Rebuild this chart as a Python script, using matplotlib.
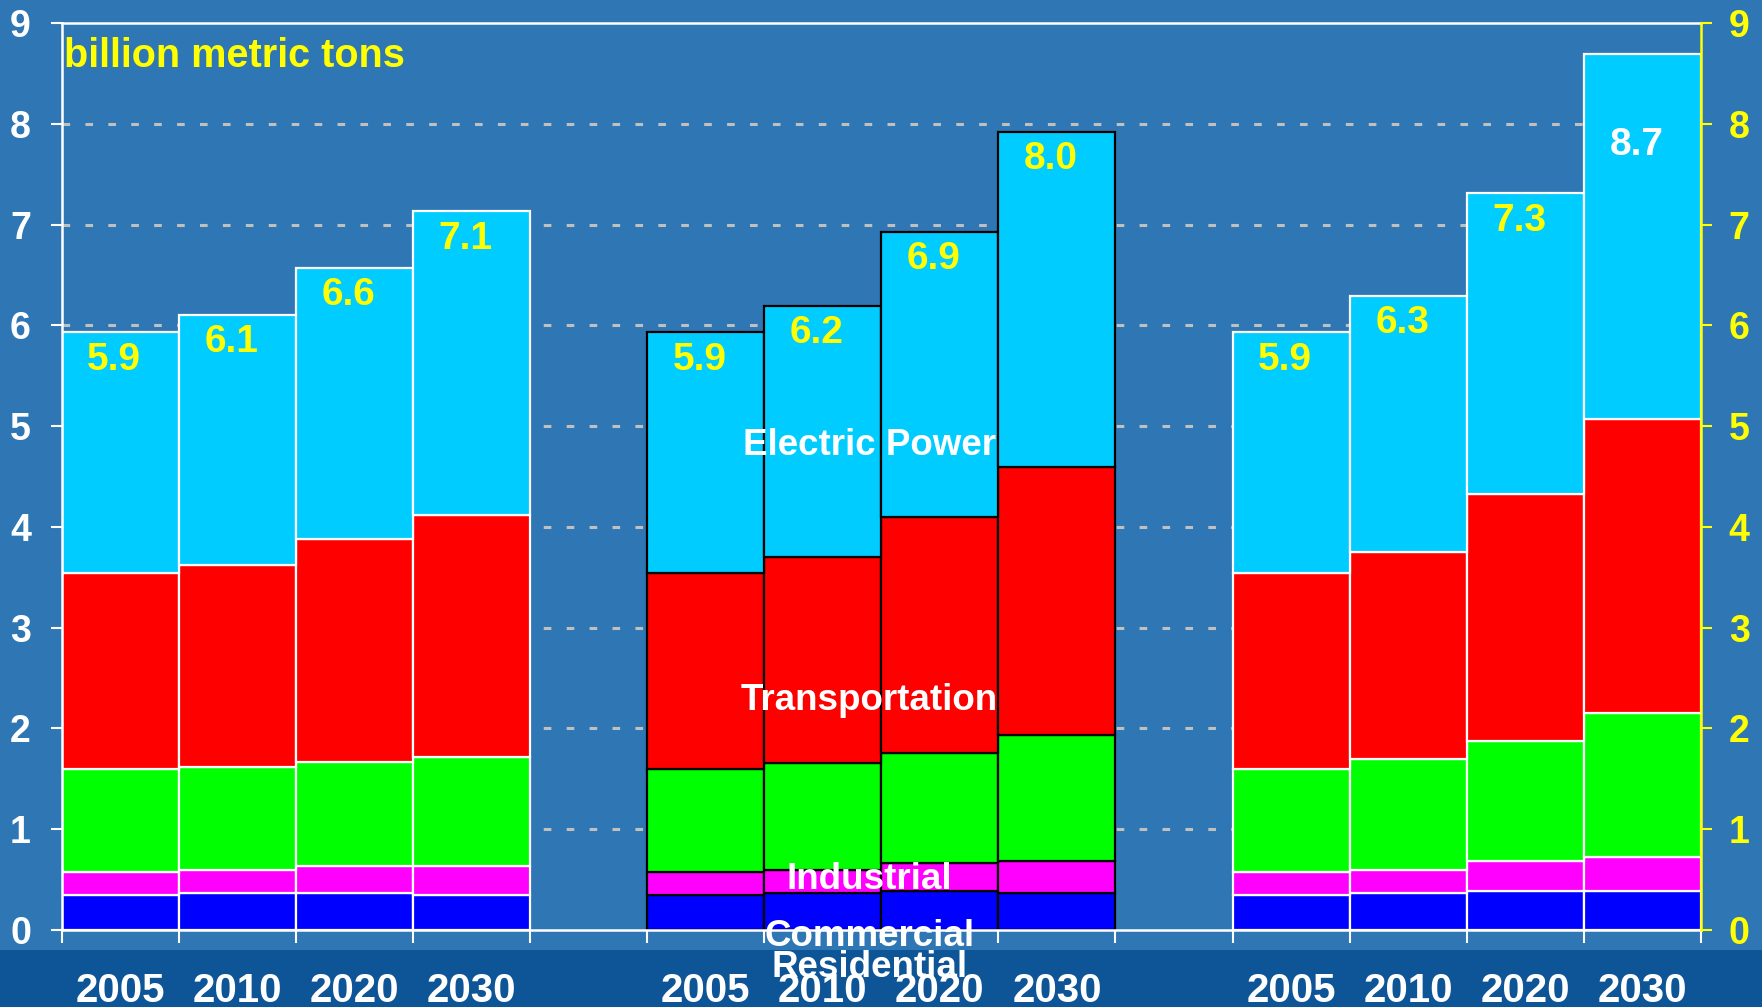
import numpy as np
import matplotlib.pyplot as plt
from matplotlib.patches import Rectangle

plt.rcParams['font.family'] = ['Liberation Sans', 'DejaVu Sans']

years = ['2005', '2010', '2020', '2030']
# three scenarios, four years each (billion metric tons)
residential = [0.35, 0.37, 0.37, 0.35, 0.35, 0.37, 0.39, 0.37, 0.35, 0.37, 0.39, 0.39]
commercial = [0.23, 0.23, 0.27, 0.29, 0.23, 0.23, 0.27, 0.31, 0.23, 0.23, 0.29, 0.33]
industrial = [1.02, 1.02, 1.03, 1.08, 1.02, 1.06, 1.10, 1.25, 1.02, 1.10, 1.20, 1.43]
transportation = [1.94, 2.00, 2.21, 2.40, 1.94, 2.04, 2.34, 2.66, 1.94, 2.05, 2.45, 2.92]
electric = [2.39, 2.48, 2.69, 3.01, 2.39, 2.49, 2.83, 3.33, 2.39, 2.54, 2.98, 3.62]
totals = ['5.9', '6.1', '6.6', '7.1', '5.9', '6.2', '6.9', '8.0', '5.9', '6.3', '7.3', '8.7']
sectors = ['Residential', 'Commercial', 'Industrial', 'Transportation', 'Electric Power']
colors = ['#0000FF', '#FF00FF', '#00FF00', '#FF0000', '#00CCFF']

bg = '#2E76B4'
fig = plt.figure(figsize=(17.62, 10.07), dpi=100, facecolor=bg)
fig.patches.append(Rectangle((0, 0), 1, 57 / 1007, transform=fig.transFigure,
                             facecolor='#0D5596', edgecolor='none', zorder=-10))
ax = fig.add_axes([61.5 / 1762, 1 - 930 / 1007, (1701 - 61.5) / 1762, (930 - 23) / 1007])
ax.set_facecolor(bg)

# bar positions: 4 bars per group, one empty slot between groups
x = np.array([g * 5 + i + 0.5 for g in range(3) for i in range(4)])
edge = ['white'] * 4 + ['black'] * 4 + ['white'] * 4

for y in range(1, 9):
    ax.axhline(y, color='#C0C0C0', lw=2.2, ls=(0, (2.5, 5)), zorder=1)

bottom = np.zeros(len(x))
for vals, c in zip([residential, commercial, industrial, transportation, electric], colors):
    ax.bar(x, vals, width=1.0, bottom=bottom, color=c, edgecolor=edge, linewidth=1.6, zorder=2)
    bottom += np.array(vals)

for i, (xi, top, lab) in enumerate(zip(x, bottom, totals)):
    col = 'white' if i == len(x) - 1 else 'yellow'
    dy = 0.9 if i == len(x) - 1 else 0.27
    ax.text(xi - 0.05, top - dy, lab, ha='center', va='center', color=col,
            fontsize=28, fontweight='bold', zorder=5)

# sector labels in the middle group
lab_pos = {'Electric Power': 4.81, 'Transportation': 2.28, 'Industrial': 0.5,
           'Commercial': -0.06, 'Residential': -0.37}
for name in sectors:
    ax.text(6.9, lab_pos[name], name, ha='center', va='center', color='white',
            fontsize=26.5, fontweight='bold', zorder=6, clip_on=False)

ax.text(0.02, 8.67, 'billion metric tons', color='yellow', fontsize=28.5,
        fontweight='bold', ha='left', va='center')

ax.set_xlim(0, 14)
ax.set_ylim(0, 9)
ax.set_xticks(np.arange(0, 15))
ax.set_xticklabels([])
ax.set_xticks(x, minor=True)
ax.set_xticklabels(years * 3, minor=True)
ax.tick_params(axis='x', which='major', length=9, width=1.5, color='white')
ax.tick_params(axis='x', which='minor', length=0, pad=30, labelsize=29,
               labelcolor='white')
for t in ax.get_xticklabels(minor=True):
    t.set_fontweight('bold')

ax.set_yticks(range(10))
ax.tick_params(axis='y', length=8, width=1.5, color='white', labelcolor='white',
               labelsize=27, pad=14)
for t in ax.get_yticklabels():
    t.set_fontweight('bold')

for s in ['left', 'top', 'bottom']:
    ax.spines[s].set_color('white')
    ax.spines[s].set_linewidth(1.8)
ax.spines['right'].set_visible(False)

ax2 = ax.twinx()
ax2.set_ylim(0, 9)
ax2.set_yticks(range(10))
ax2.tick_params(axis='y', length=8, width=1.5, color='yellow', labelcolor='yellow',
                labelsize=27, pad=12)
for t in ax2.get_yticklabels():
    t.set_fontweight('bold')
for s in ['left', 'top', 'bottom']:
    ax2.spines[s].set_visible(False)
ax2.spines['right'].set_color('yellow')
ax2.spines['right'].set_linewidth(1.8)

fig.savefig('out.png', dpi=100, facecolor=bg)
